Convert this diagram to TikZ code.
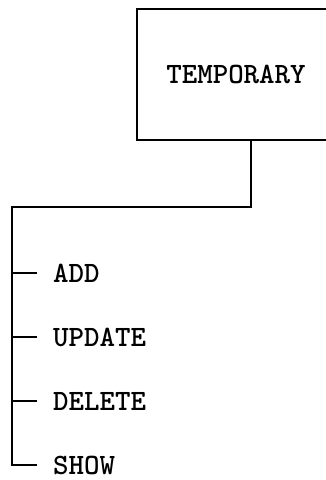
\documentclass[tikz,border=0pt]{standalone}
\begin{document}
\begin{tikzpicture}[x=1pt,y=-1pt,
  conn/.style={line width=1.6pt, line join=miter},
  boxnode/.style={draw, line width=1.6pt, minimum width=203pt, minimum height=131pt, inner sep=0pt,
    font=\fontsize{29.5}{30}\selectfont\ttfamily\bfseries},
  item/.style={anchor=west, inner sep=0pt, font=\fontsize{29.5}{30}\selectfont\ttfamily\bfseries}]
\useasboundingbox (0,0) rectangle (326,480);
\clip (0,0) rectangle (326,480);
\node[boxnode] (tmp) at (238.5,74.5) {\hspace*{-5pt}TEMPORARY};
\coordinate (j1) at (251,207);
\coordinate (j2) at (12,207);
\node[item] (add) at (53,273) {ADD};
\node[item] (upd) at (53,337) {UPDATE};
\node[item] (del) at (53,401) {DELETE};
\node[item] (show) at (53,465) {SHOW};
\draw[conn] (tmp.south -| j1) -- (j1) -- (j2) -- (j2 |- show.west) -- ([xshift=-16pt]show.west);
\draw[conn] (j2 |- add.west) -- ([xshift=-16pt]add.west);
\draw[conn] (j2 |- upd.west) -- ([xshift=-16pt]upd.west);
\draw[conn] (j2 |- del.west) -- ([xshift=-16pt]del.west);
\end{tikzpicture}
\end{document}
